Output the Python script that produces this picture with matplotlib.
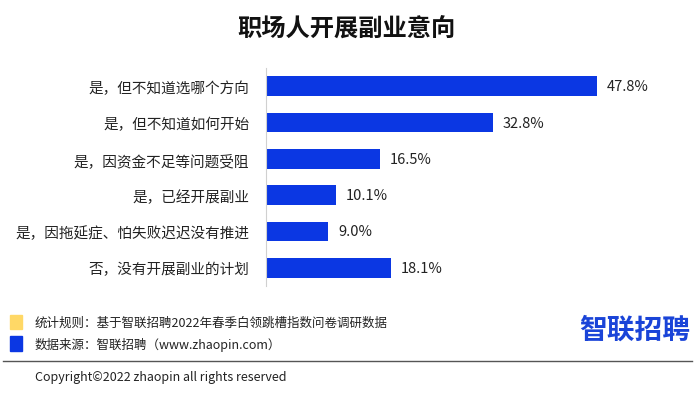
import matplotlib.pyplot as plt
from matplotlib.patches import Rectangle

plt.rcParams['font.family'] = ['Noto Sans CJK SC', 'DejaVu Sans']

categories = ['是，但不知道选哪个方向', '是，但不知道如何开始', '是，因资金不足等问题受阻',
              '是，已经开展副业', '是，因拖延症、怕失败迟迟没有推进', '否，没有开展副业的计划']
values = [47.8, 32.8, 16.5, 10.1, 9.0, 18.1]
title = '职场人开展副业意向'
note_rule = '统计规则：基于智联招聘2022年春季白领跳槽指数问卷调研数据'
note_source = '数据来源：智联招聘（www.zhaopin.com）'
copyright_text = 'Copyright©2022 zhaopin all rights reserved'

blue = '#0b37e3'
yellow = '#ffd866'

fig = plt.figure(figsize=(7, 4.02), dpi=100)
ax = fig.add_axes([266 / 700, 1 - 287 / 402, 415 / 700, 218 / 402])

y = list(range(len(categories)))
ax.barh(y, values, height=0.54, color=blue)
ax.set_xlim(0, 60)
ax.set_ylim(len(categories) - 0.5, -0.5)
for yi, v in zip(y, values):
    ax.text(v + 1.4, yi, f'{v:.1f}%', va='center', ha='left', fontsize=10.5, color='#222222')

ax.set_yticks(y)
ax.set_yticklabels(categories, fontsize=10.5, color='#222222')
ax.tick_params(axis='y', length=0, pad=12)
ax.set_xticks([])
for s in ['top', 'right', 'bottom']:
    ax.spines[s].set_visible(False)
ax.spines['left'].set_color('#d0d0d0')
ax.spines['left'].set_linewidth(0.8)

fig.text(346 / 700, 1 - 30 / 402, title, ha='center', va='center', fontsize=17.5, fontweight='bold', color='#111111')

# footer
fig.patches.append(Rectangle((10 / 700, 1 - 330 / 402), 12 / 700, 14 / 402,
                             transform=fig.transFigure, color=yellow))
fig.patches.append(Rectangle((10 / 700, 1 - 352 / 402), 12 / 700, 15 / 402,
                             transform=fig.transFigure, color=blue))
fig.text(35 / 700, 1 - 323 / 402, note_rule, ha='left', va='center', fontsize=9, color='#222222')
fig.text(35 / 700, 1 - 345 / 402, note_source, ha='left', va='center', fontsize=9, color='#222222')
fig.text(690 / 700, 1 - 331 / 402, '智联招聘', ha='right', va='center', fontsize=20,
         fontweight='bold', color='#1a44d8')
fig.add_artist(plt.Line2D([3 / 700, 692 / 700], [1 - 362 / 402, 1 - 362 / 402],
                          transform=fig.transFigure, color='#555555', lw=1))
fig.text(35 / 700, 1 - 378 / 402, copyright_text, ha='left', va='center', fontsize=9, color='#222222')

fig.savefig('out.png', dpi=100, facecolor='white')
